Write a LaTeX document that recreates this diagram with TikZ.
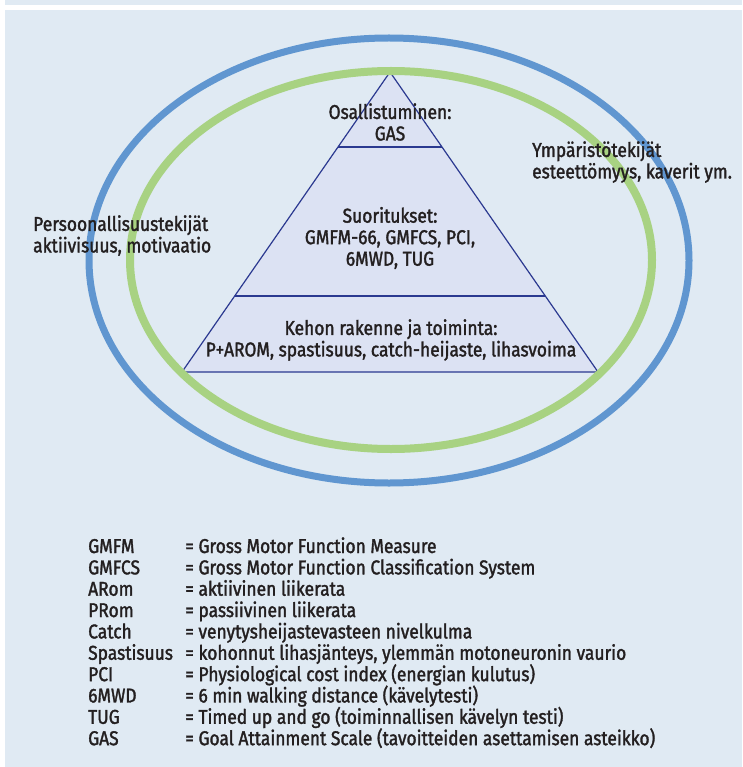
\documentclass[tikz,border=0pt]{standalone}
\usepackage{fontspec}
\setmainfont{Fira Sans}[FakeStretch=0.87,FakeBold=1.6]
\definecolor{bgblue}{HTML}{E0EAF3}
\definecolor{ringblue}{HTML}{6096D0}
\definecolor{ringgreen}{HTML}{A8D282}
\definecolor{pyrfill}{HTML}{DCE2F3}
\definecolor{pyrline}{HTML}{2B3990}
\definecolor{txt}{HTML}{231F20}
\begin{document}
\begin{tikzpicture}[x=1pt,y=-1pt,
  lbl/.style={text=txt,inner sep=0pt,font=\fontsize{20}{21.5}\selectfont},
  lbc/.style={lbl,align=center},
  lbl left/.style={lbl,align=left,anchor=west},
  key/.style={lbl,anchor=base west},
  ring/.style={line width=7pt}
]
\useasboundingbox (0,0) rectangle (742,767);
\fill[white] (0,0) rectangle (742,767);
\fill[bgblue] (5,0) rectangle (742,767);
\fill[white] (5,5) rectangle (742,10);
% pyramid
\coordinate (apex) at (390,72);
\coordinate (bl) at (182,372);
\coordinate (br) at (598,372);
\coordinate (s1l) at (338,147);
\coordinate (s1r) at (442,147);
\coordinate (s2l) at (234.7,296);
\coordinate (s2r) at (545.3,296);
\filldraw[fill=pyrfill,draw=pyrline,line width=1.2pt,line join=miter] (apex) -- (br) -- (bl) -- cycle;
\draw[pyrline,line width=1.2pt] (s1l) -- (s1r);
\draw[pyrline,line width=1.2pt] (s2l) -- (s2r);
% rings
\draw[ring,ringblue] (389,260.5) ellipse [x radius=300, y radius=222.5];
\draw[ring,ringgreen,line width=8pt] (391,260) ellipse [x radius=261, y radius=189];
% pyramid texts
\node[lbc] (top) at (390,122) {Osallistuminen:\\GAS};
\node[lbc] (mid) at (390,238) {Suoritukset:\\GMFM-66, GMFCS, PCI,\\6MWD, TUG};
\node[lbc] (bot) at (391,340) {Kehon rakenne ja toiminta:\\P+AROM, spastisuus, catch-heijaste, lihasvoima};
% side texts
\node[lbl left] (pers) at (33,235.5) {Persoonallisuustekijät\\aktiivisuus, motivaatio};
\node[lbl left] (ymp) at (532,162) {Ympäristötekijät\\esteettömyys, kaverit ym.};
% legend
\foreach \i/\a/\b in {0/GMFM/Gross Motor Function Measure,
  1/GMFCS/Gross Motor Function Classification System,
  2/ARom/aktiivinen liikerata,
  3/PRom/passiivinen liikerata,
  4/Catch/venytysheijastevasteen nivelkulma,
  5/Spastisuus/{kohonnut lihasjänteys, ylemmän motoneuronin vaurio},
  6/PCI/Physiological cost index (energian kulutus),
  7/6MWD/6 min walking distance (kävelytesti),
  8/TUG/Timed up and go (toiminnallisen kävelyn testi),
  9/GAS/Goal Attainment Scale (tavoitteiden asettamisen asteikko)}{
  \node[key] (abbr\i) at (88,{553+21.35*\i}) {\a};
  \node[key] (def\i) at (185,{553+21.35*\i}) {= \b};
}
\end{tikzpicture}
\end{document}
